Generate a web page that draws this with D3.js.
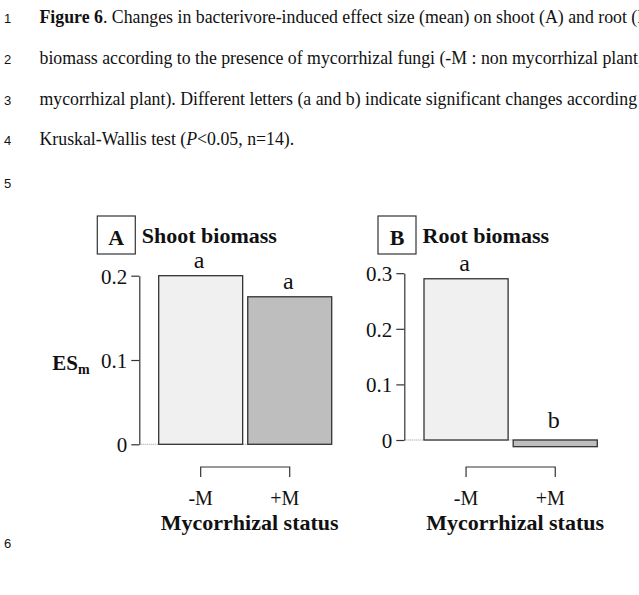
<!DOCTYPE html>
<html>
<head>
<meta charset="utf-8">
<script src="https://cdn.jsdelivr.net/npm/d3@7"></script>
<style>
  html, body { margin: 0; padding: 0; background: #fff; }
  svg { display: block; }
</style>
</head>
<body>
<svg id="chart" width="639" height="595"></svg>
<script>
// ---------- data ----------
const categories = ["-M", "+M"];
const shootValues = [0.2, 0.175];
const rootValues = [0.29, -0.012];
const shootLetters = ["a", "a"];
const rootLetters = ["a", "b"];
const shootTicks = [0, 0.1, 0.2];
const rootTicks = [0, 0.1, 0.2, 0.3];
const shootTickLabels = ["0", "0.1", "0.2"];
const rootTickLabels = ["0", "0.1", "0.2", "0.3"];
const barColors = ["#f0f0f0", "#bebebe"];
const captionLines = [
  [{t: "Figure 6", b: true}, {t: ". Changes in bacterivore-induced effect size (mean) on shoot (A) and root (B)"}],
  [{t: "biomass according to the presence of mycorrhizal fungi (-M : non mycorrhizal plant, +M :"}],
  [{t: "mycorrhizal plant). Different letters (a and b) indicate significant changes according to"}],
  [{t: "Kruskal-Wallis test ("}, {t: "P", i: true}, {t: "<0.05, n=14)."}]
];
const lineNumbers = ["1", "2", "3", "4", "5", "6"];

// ---------- drawing ----------
const svg = d3.select("#chart");
const serif = "'Liberation Serif', 'Times New Roman', serif";
const sans = "'Liberation Sans', Arial, sans-serif";
const ink = "#333";

// line numbers
const lineNumY = [23, 64, 105, 145, 188, 548];
svg.selectAll("text.ln").data(lineNumbers).join("text")
  .attr("class", "ln")
  .attr("x", 4).attr("y", (d, i) => lineNumY[i])
  .attr("font-family", sans).attr("font-size", 13).attr("fill", "#111")
  .text(d => d);

// caption
captionLines.forEach((parts, i) => {
  const t = svg.append("text")
    .attr("x", 39.5).attr("y", lineNumY[i])
    .attr("font-family", serif).attr("font-size", 17.8).attr("fill", "#111");
  parts.forEach(p => {
    t.append("tspan")
      .attr("font-weight", p.b ? "bold" : null)
      .attr("font-style", p.i ? "italic" : null)
      .text(p.t);
  });
});

function panel(cfg) {
  const g = svg.append("g");
  const y = d3.scaleLinear().domain(cfg.domain).range(cfg.yRange);
  const x = d3.scaleBand().domain(categories).range(cfg.xRange)
    .paddingInner(0.057).paddingOuter(0);

  // dotted zero line
  g.append("line")
    .attr("x1", cfg.axisX).attr("x2", cfg.xRange[1])
    .attr("y1", y(0)).attr("y2", y(0))
    .attr("stroke", "#999").attr("stroke-width", 1)
    .attr("stroke-dasharray", "1,1");

  // bars
  g.selectAll("rect.bar").data(cfg.values).join("rect")
    .attr("class", "bar")
    .attr("x", (d, i) => x(categories[i]))
    .attr("width", x.bandwidth())
    .attr("y", d => y(Math.max(0, d)))
    .attr("height", d => Math.abs(y(d) - y(0)))
    .attr("fill", (d, i) => barColors[i])
    .attr("stroke", ink).attr("stroke-width", 1.3);

  // y axis
  const axis = d3.axisLeft(y).tickValues(cfg.ticks)
    .tickFormat((d, i) => cfg.tickLabels[i])
    .tickSize(8).tickPadding(4).tickSizeOuter(0);
  const ag = g.append("g").attr("transform", `translate(${cfg.axisX},0)`).call(axis);
  ag.attr("font-family", serif).attr("font-size", 21);
  ag.select(".domain").attr("stroke", ink).attr("stroke-width", 1.2);
  ag.selectAll(".tick line").attr("stroke", ink).attr("stroke-width", 1.2);
  ag.selectAll(".tick text")
    .attr("font-family", serif).attr("font-size", 21).attr("fill", "#111")
    .attr("dy", "0.36em");

  // significance letters
  g.selectAll("text.sig").data(cfg.values).join("text")
    .attr("class", "sig")
    .attr("x", (d, i) => x(categories[i]) + x.bandwidth() / 2 - 1.5)
    .attr("y", (d, i) => y(Math.max(0, d)) - (d < 0.01 ? 12 : 8))
    .attr("text-anchor", "middle")
    .attr("font-family", serif).attr("font-size", 24).attr("fill", "#111")
    .text((d, i) => cfg.letters[i]);

  // title box
  g.append("rect")
    .attr("x", cfg.boxX).attr("y", 216).attr("width", 38).attr("height", 38)
    .attr("fill", "#fff").attr("stroke", ink).attr("stroke-width", 1.2);
  g.append("text")
    .attr("x", cfg.boxX + 19).attr("y", 245).attr("text-anchor", "middle")
    .attr("font-family", serif).attr("font-weight", "bold").attr("font-size", 22).attr("fill", "#111")
    .text(cfg.letter);
  g.append("text")
    .attr("x", cfg.boxX + 44.5).attr("y", 243)
    .attr("font-family", serif).attr("font-weight", "bold").attr("font-size", 22).attr("fill", "#111")
    .text(cfg.title);

  // x bracket
  const c0 = x(categories[0]) + x.bandwidth() / 2;
  const c1 = x(categories[1]) + x.bandwidth() / 2;
  g.append("path")
    .attr("d", `M${c0},477V467H${c1}V477`)
    .attr("fill", "none").attr("stroke", ink).attr("stroke-width", 1.2);
  g.selectAll("text.cat").data(categories).join("text")
    .attr("class", "cat")
    .attr("x", (d, i) => x(d) + x.bandwidth() / 2 + (i === 1 ? -5 : 0))
    .attr("y", 505).attr("text-anchor", "middle")
    .attr("font-family", serif).attr("font-size", 20).attr("fill", "#111")
    .text(d => d);
  g.append("text")
    .attr("x", (cfg.xRange[0] + cfg.xRange[1]) / 2 + 4.5).attr("y", 530)
    .attr("text-anchor", "middle")
    .attr("font-family", serif).attr("font-weight", "bold").attr("font-size", 22).attr("fill", "#111")
    .text("Mycorrhizal status");
  return g;
}

panel({
  domain: [0, 0.2], yRange: [444.3, 275.7], xRange: [158.7, 331.7], axisX: 139.3,
  values: shootValues, letters: shootLetters, ticks: shootTicks, tickLabels: shootTickLabels,
  boxX: 97.3, letter: "A", title: "Shoot biomass"
});
panel({
  domain: [0, 0.3], yRange: [440, 273.2], xRange: [424, 597.3], axisX: 404.3,
  values: rootValues, letters: rootLetters, ticks: rootTicks, tickLabels: rootTickLabels,
  boxX: 378, letter: "B", title: "Root biomass"
});

// y axis title ES_m
const es = svg.append("text")
  .attr("x", 52.3).attr("y", 370)
  .attr("font-family", serif).attr("font-weight", "bold").attr("font-size", 21).attr("fill", "#111");
es.append("tspan").text("ES");
es.append("tspan").attr("font-size", 14).attr("dy", 4).text("m");
</script>
</body>
</html>
